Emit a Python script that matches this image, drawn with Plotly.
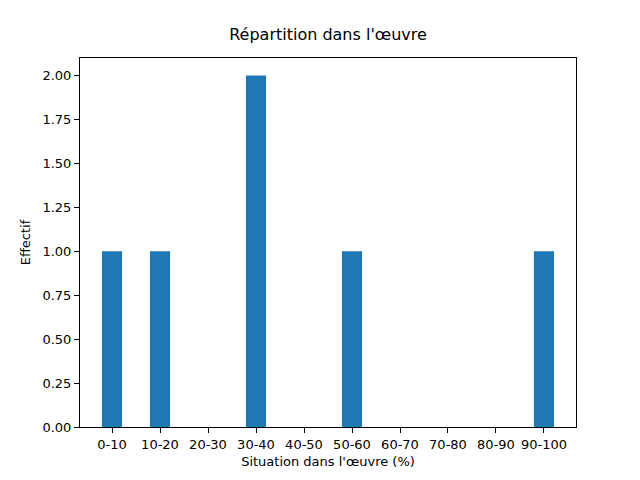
import plotly.graph_objects as go

categories = ["0-10","10-20","20-30","30-40","40-50","50-60","60-70","70-80","80-90","90-100"]
counts = [1,1,0,2,0,1,0,0,0,1]
yticks = [0,0.25,0.5,0.75,1.0,1.25,1.5,1.75,2.0]

fig = go.Figure(go.Bar(x=list(range(len(categories))), y=counts, width=0.42,
                       marker=dict(color="#1f77b4", line=dict(width=0))))
ax = dict(showline=True, linecolor="black", linewidth=1, mirror=True, ticks="outside",
          ticklen=5, tickcolor="black", showgrid=False, zeroline=False,
          tickfont=dict(size=13, color="black"))
fig.update_layout(
    width=640, height=480, margin=dict(l=72, r=72, t=50, b=61),
    plot_bgcolor="white", paper_bgcolor="white",
    font=dict(family="DejaVu Sans", color="black"),
    title=dict(text="Répartition dans l'œuvre", x=0.5, xanchor="center", y=1-32/480, yanchor="bottom",
               font=dict(size=16)),
    xaxis=dict(ax, range=[-0.667, 9.667], tickvals=list(range(len(categories))), ticktext=categories,
               title=dict(text="Situation dans l'œuvre (%)", font=dict(size=13), standoff=6)),
    yaxis=dict(ax, range=[0, 2.1], tickvals=yticks, ticktext=[f"{v:.2f}" for v in yticks],
               title=dict(text="Effectif", font=dict(size=13), standoff=8)),
    showlegend=False,
)
fig.write_html("out.html")
